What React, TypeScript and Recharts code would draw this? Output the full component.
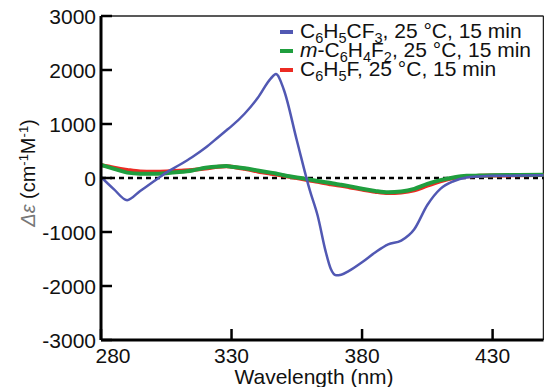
import React from "react";
import { LineChart, Line, XAxis, YAxis, ReferenceLine, Customized } from "recharts";

const wavelengths = [280, 285, 290, 295, 300, 305, 310, 315, 320, 325, 328, 330, 335, 340, 345, 347, 350, 355, 360, 363, 366, 368, 370, 372, 375, 380, 385, 390, 395, 400, 405, 410, 415, 420, 425, 430, 440, 450];
const cf3 = [20, -210, -410, -240, -70, 100, 240, 390, 560, 760, 880, 960, 1190, 1480, 1840, 1925, 1640, 700, -230, -700, -1350, -1680, -1800, -1790, -1720, -1560, -1380, -1230, -1160, -950, -500, -200, -60, 10, 30, 40, 45, 50];
const mf2 = [240, 170, 100, 80, 80, 90, 110, 140, 190, 215, 220, 210, 180, 140, 100, 85, 50, 10, -30, -55, -78, -92, -110, -125, -150, -200, -240, -265, -250, -200, -110, -40, 10, 40, 45, 50, 55, 60];
const f1 = [240, 190, 150, 120, 115, 120, 135, 150, 175, 210, 218, 210, 170, 120, 80, 65, 40, 0, -45, -70, -100, -115, -130, -145, -170, -215, -255, -280, -270, -230, -140, -60, 0, 30, 40, 45, 50, 55];

const xTicks = [280, 330, 380, 430];
const yTicks = [-3000, -2000, -1000, 0, 1000, 2000, 3000];

const data = wavelengths.map((wl, i) => ({ wl, cf3: cf3[i], mf2: mf2[i], f1: f1[i] }));

const FONT = "'Liberation Sans', Arial, sans-serif";
const BLUE = "#5158b3";
const GREEN = "#1f9e3e";
const RED = "#ec2b23";

const YTick = (props: any) => {
  const { x, y, payload } = props;
  return (
    <g>
      <line x1={x} x2={x + 11} y1={y} y2={y} stroke="#000" strokeWidth={2.5} />
      <text x={x - 5} y={y + 7.5} textAnchor="end" fontSize={21} fontFamily={FONT} fill="#111">
        {payload.value}
      </text>
    </g>
  );
};

const XTick = (props: any) => {
  const { x, y, payload } = props;
  const dx = payload.value === 280 ? 12 : 0;
  return (
    <g>
      <line x1={x} x2={x} y1={y} y2={y - 11} stroke="#000" strokeWidth={2.5} />
      <text x={x + dx} y={y + 23} textAnchor="middle" fontSize={21} fontFamily={FONT} fill="#111">
        {payload.value}
      </text>
    </g>
  );
};

type Seg = [string, boolean, boolean?];
const legendRows: { color: string; segs: Seg[] }[] = [
  { color: BLUE, segs: [["C", false], ["6", true], ["H", false], ["5", true], ["CF", false], ["3", true], [", 25 °C, 15 min", false]] },
  { color: GREEN, segs: [["m", false, true], ["-C", false], ["6", true], ["H", false], ["4", true], ["F", false], ["2", true], [", 25 °C, 15 min", false]] },
  { color: RED, segs: [["C", false], ["6", true], ["H", false], ["5", true], ["F", false], [", 25 °C, 15 min", false]] },
];

const renderSegs = (segs: Seg[]) => {
  let prevSub = false;
  return segs.map(([t, sub, it], i) => {
    const dy = sub && !prevSub ? 5 : !sub && prevSub ? -5 : 0;
    prevSub = sub;
    return (
      <tspan key={i} dy={dy} fontSize={sub ? 14.5 : 21} fontStyle={it ? "italic" : "normal"}>
        {t}
      </tspan>
    );
  });
};

const Overlay = () => (
  <g fontFamily={FONT} fill="#111">
    {legendRows.map((r, i) => (
      <g key={i}>
        <line x1={280} x2={293} y1={32 + i * 19} y2={32 + i * 19} stroke={r.color} strokeWidth={4} />
        <text x={300} y={37.5 + i * 19.3} fontSize={21}>
          {renderSegs(r.segs)}
        </text>
      </g>
    ))}
    <text x={35} y={173} fontSize={20} textAnchor="middle" transform="rotate(-90 35 173)">
      <tspan fontStyle="italic" fill="#777">Δε</tspan>
      <tspan> (cm</tspan>
      <tspan dy={-7} fontSize={13}>-1</tspan>
      <tspan dy={7}>M</tspan>
      <tspan dy={-7} fontSize={13}>-1</tspan>
      <tspan dy={7}>)</tspan>
    </text>
    <text x={314} y={384} fontSize={21} textAnchor="middle">
      Wavelength (nm)
    </text>
  </g>
);

export default function App() {
  return (
    <div style={{ position: "absolute", left: 0, top: 0, width: 544, height: 387, background: "#fff" }}>
      <LineChart width={544} height={387} data={data} margin={{ top: 16, right: 0.5, bottom: 0, left: 0 }}>
        <XAxis
          dataKey="wl"
          type="number"
          domain={[280, 449.5]}
          allowDataOverflow
          ticks={xTicks}
          tickSize={0}
          tickMargin={0}
          tickLine={false}
          tick={<XTick />}
          height={47}
          axisLine={{ stroke: "#000", strokeWidth: 3 }}
        />
        <YAxis
          type="number"
          domain={[-3000, 3000]}
          ticks={yTicks}
          tickSize={0}
          tickMargin={0}
          tickLine={false}
          tick={<YTick />}
          width={101}
          axisLine={{ stroke: "#000", strokeWidth: 3 }}
        />
        <ReferenceLine y={3000} stroke="#222" strokeWidth={1.5} />
        <ReferenceLine x={449.5} stroke="#222" strokeWidth={1.5} />
        <ReferenceLine y={0} stroke="#000" strokeWidth={2.5} strokeDasharray="5 4" />
        <Line type="monotone" dataKey="f1" stroke={RED} strokeWidth={4} dot={false} isAnimationActive={false} />
        <Line type="monotone" dataKey="mf2" stroke={GREEN} strokeWidth={4} dot={false} isAnimationActive={false} />
        <Line type="monotone" dataKey="cf3" stroke={BLUE} strokeWidth={2.5} dot={false} isAnimationActive={false} />
        <Customized component={Overlay} />
      </LineChart>
    </div>
  );
}
